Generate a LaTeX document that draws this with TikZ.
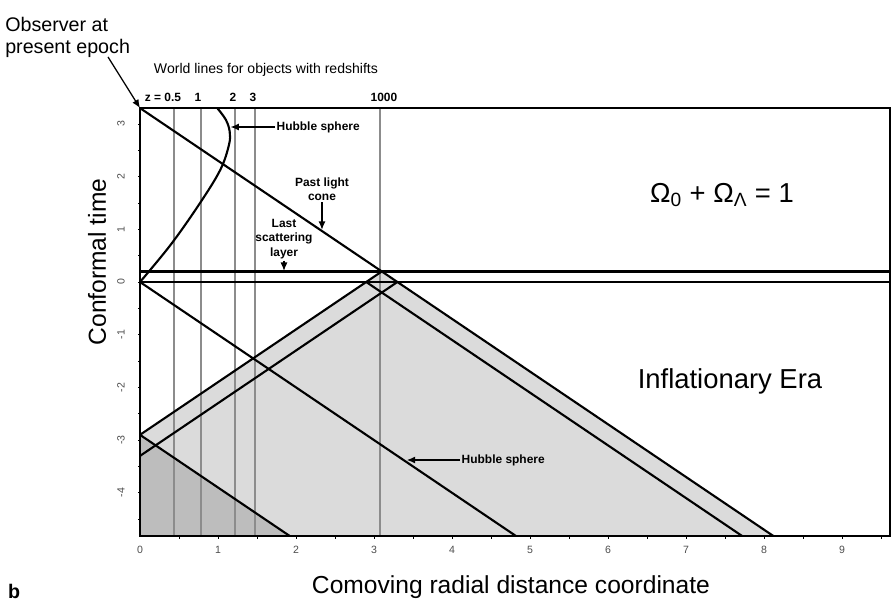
\documentclass[tikz,border=0pt]{standalone}
\usepackage{fontspec}
\setmainfont{Liberation Sans}
\usepackage{tikz}
\usetikzlibrary{arrows.meta, calc, positioning}

\definecolor{conefill}{gray}{0.86}
\definecolor{deepfill}{gray}{0.74}
\definecolor{wlgrey}{gray}{0.55}
\definecolor{tickgrey}{gray}{0.3}

\begin{document}
\begin{tikzpicture}[x=1.95cm, y=1.3175cm,
  darkline/.style={line width=1.5pt, black},
  worldline/.style={line width=1.3pt, wlgrey},
  frameline/.style={line width=1.4pt, black},
  tickmark/.style={line width=0.5pt, black},
  pointer/.style={line width=0.9pt, -{Latex[length=6pt,width=5pt]}},
  lbl/.style={font=\bfseries\fontsize{8.5}{10.3}\selectfont, inner sep=1pt},
  zlabel/.style={font=\bfseries\fontsize{8.5}{10}\selectfont, inner sep=0pt},
  ticklabel/.style={font=\fontsize{7.5}{9}\selectfont, text=tickgrey, inner sep=0pt},
  axistitle/.style={font=\fontsize{17.5}{21}\selectfont, inner sep=0pt},
  bigtitle/.style={font=\fontsize{19.5}{23}\selectfont, inner sep=0pt}]

\useasboundingbox (-1.795,-6.091) rectangle (9.641,5.351);

\coordinate (obs) at (0,3.3);
\coordinate (apex) at (3.1,0.2);
\coordinate (P) at (2.9,0);
\coordinate (Q) at (3.3,0);
\coordinate (infA) at (0,-2.9);
\coordinate (infB) at (0,-3.3);
\coordinate (botA) at (1.92,-4.82);
\coordinate (botC) at (7.72,-4.82);
\coordinate (botD) at (8.12,-4.82);
\coordinate (botH) at (4.82,-4.82);
\coordinate (origin) at (0,0);
\coordinate (corner) at (0,-4.82);
\coordinate (farend) at (9.615,3.3);

\fill[conefill] (infA) -- (apex) -- (botD) -- (corner) -- cycle;
\fill[deepfill] (infA) -- (botA) -- (corner) -- cycle;

\foreach \xw in {0.44, 0.78, 1.22, 1.47, 3.08}
  \draw[worldline] (\xw,-4.82) -- (\xw,3.3);

\draw[darkline] (origin) -- (9.615,0);
\draw[darkline] (0,0.2) -- (9.615,0.2);
\draw[darkline] (obs) -- (botD);
\draw[darkline] (infA) -- (apex);
\draw[darkline] (infB) -- (Q);
\draw[darkline] (P) -- (botC);
\draw[darkline] (origin) -- (botH);
\draw[darkline] (infA) -- (botA);
\draw[darkline] plot[smooth, tension=0.6] coordinates
  {(0,0) (0.4,0.72) (0.77,1.5) (1.03,2.13) (1.14,2.6) (1.15,2.85) (1.1,3.08) (0.99,3.3)};
\draw[frameline] (corner) rectangle (farend);

\foreach \t in {-4.5,-4,...,3}
  \draw[tickmark] (0,\t) -- (-0.03,\t);
\foreach \t in {0.5,1,...,9.5}
  \draw[tickmark] (\t,-4.82) -- (\t,-4.87);

\foreach \t [count=\i] in {-4,...,3}
  \node[ticklabel, rotate=90] (ylab\i) at (-0.244,\t) {\t};
\foreach \t [count=\i] in {0,...,9}
  \node[ticklabel] (xlab\i) at (\t,-5.085) {\t};

\node[font=\fontsize{14}{15.5}\selectfont, align=left, anchor=north west, inner sep=0pt]
  (observer) at (-1.731,5.03) {Observer at\\present epoch};
\coordinate (obstail) at (-0.41,4.27);
\draw[pointer] (obstail) -- (obs);

\node[font=\fontsize{10}{12}\selectfont, inner sep=0pt] (wltitle) at (1.615,4.02)
  {World lines for objects with redshifts};
\node[zlabel, anchor=base east] (z05) at (0.53,3.416) {z = 0.5};
\foreach \xw/\zl [count=\i] in {0.744/1, 1.192/2, 1.449/3, 3.128/1000}
  \node[zlabel, anchor=base] (zlab\i) at (\xw,3.416) {\zl};

\node[lbl, anchor=west] (hubup) at (1.731,2.941) {Hubble sphere};
\coordinate (hubupTip) at (1.16,2.941);
\draw[pointer] (hubup.west) -- (hubupTip);

\node[lbl, anchor=west] (hubdown) at (4.103,-3.378) {Hubble sphere};
\coordinate (hubdownTip) at (3.42,-3.378);
\draw[pointer] (hubdown.west) -- (hubdownTip);

\node[lbl, align=center] (plc) at (2.333,1.765) {Past light\\cone};
\coordinate (plcTip) at (2.333,0.99);
\draw[pointer] (plc.south) -- (plcTip);

\node[lbl, align=center] (lsl) at (1.846,0.816) {Last\\scattering\\layer};
\coordinate (lslTip) at (1.846,0.21);
\draw[pointer] (lsl.south) -- (lslTip);

\node[bigtitle] (omega) at (7.462,1.651)
  {Ω\textsubscript{0} + Ω\textsubscript{Λ} = 1};
\node[bigtitle] (infl) at (7.564,-1.879) {Inflationary Era};

\node[axistitle] (xtitle) at (4.756,-5.787) {Comoving radial distance coordinate};
\node[axistitle, rotate=90] (ytitle) at (-0.551,0.38) {Conformal time};

\node[font=\bfseries\fontsize{14}{16}\selectfont, inner sep=0pt] (panel) at (-1.615,-5.863) {b};
\end{tikzpicture}
\end{document}
